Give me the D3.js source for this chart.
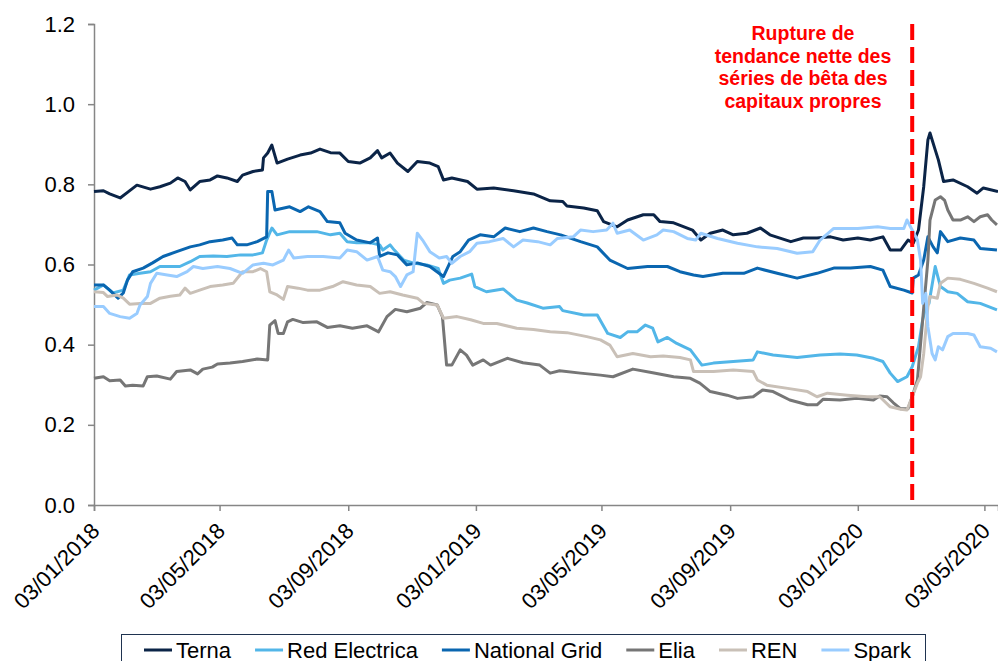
<!DOCTYPE html>
<html>
<head>
<meta charset="utf-8">
<script src="https://cdn.jsdelivr.net/npm/d3@7"></script>
<style>
  body { margin: 0; background: #fff; }
  svg { display: block; font-family: Arial, "Liberation Sans", sans-serif; }
</style>
</head>
<body>
<svg width="998" height="661"></svg>
<script>
// dates are day offsets from startDate
const startDate = '2018-01-03';
const endDate = '2020-05-16';
const breakDate = '2020-02-24';
const tickDates = ['2018-01-03', '2018-05-03', '2018-09-03', '2019-01-03',
  '2019-05-03', '2019-09-03', '2020-01-03', '2020-05-03'];
const yTicks = [0, 0.2, 0.4, 0.6, 0.8, 1.0, 1.2];
const seriesNames = ['Terna', 'Red Electrica', 'National Grid', 'Elia', 'REN', 'Spark'];
const annotationLines = ['Rupture de', 'tendance nette des', 'séries de bêta des', 'capitaux propres'];

const terna = [[0, 0.782], [9, 0.784], [15, 0.776], [25, 0.766], [32, 0.78], [41, 0.798], [54, 0.788],
  [63, 0.794], [73, 0.803], [80, 0.816], [87, 0.807], [92, 0.786], [101, 0.807], [111, 0.811], [118, 0.821],
  [127, 0.816], [137, 0.807], [142, 0.823], [152, 0.832], [161, 0.836], [162, 0.866], [166, 0.878],
  [170, 0.898], [175, 0.853], [185, 0.863], [197, 0.873], [207, 0.878], [216, 0.888], [226, 0.879],
  [235, 0.878], [243, 0.857], [254, 0.853], [264, 0.866], [271, 0.884], [275, 0.866], [283, 0.878],
  [290, 0.853], [300, 0.832], [309, 0.857], [321, 0.853], [329, 0.844], [334, 0.811], [342, 0.816],
  [357, 0.807], [366, 0.788], [382, 0.791], [401, 0.784], [420, 0.776], [436, 0.759], [448, 0.757],
  [452, 0.746], [468, 0.741], [481, 0.734], [487, 0.707], [500, 0.694], [510, 0.711], [525, 0.724],
  [535, 0.724], [541, 0.707], [554, 0.704], [572, 0.686], [580, 0.661], [589, 0.678], [601, 0.686],
  [611, 0.674], [624, 0.678], [637, 0.691], [646, 0.674], [666, 0.657], [678, 0.666], [691, 0.666],
  [704, 0.669], [716, 0.661], [730, 0.666], [742, 0.661], [754, 0.669], [761, 0.636], [771, 0.636],
  [778, 0.661], [783, 0.653], [788, 0.686], [793, 0.794], [797, 0.911], [799, 0.928], [804, 0.886],
  [807, 0.861], [812, 0.807], [821, 0.811], [835, 0.794], [844, 0.778], [850, 0.791], [864, 0.782]];

const redElectrica = [[0, 0.536], [9, 0.549], [18, 0.529], [28, 0.536], [34, 0.574], [44, 0.578],
  [54, 0.582], [63, 0.595], [73, 0.595], [82, 0.595], [92, 0.607], [101, 0.62], [114, 0.621], [127, 0.62],
  [140, 0.624], [152, 0.624], [161, 0.629], [165, 0.661], [170, 0.691], [175, 0.674], [187, 0.682],
  [200, 0.682], [213, 0.682], [226, 0.674], [235, 0.678], [242, 0.657], [251, 0.654], [264, 0.654],
  [273, 0.649], [276, 0.636], [283, 0.649], [287, 0.636], [296, 0.611], [305, 0.604], [318, 0.599],
  [329, 0.59], [334, 0.553], [340, 0.561], [350, 0.566], [361, 0.576], [364, 0.545], [375, 0.532],
  [391, 0.539], [404, 0.511], [414, 0.504], [429, 0.491], [445, 0.495], [448, 0.485], [468, 0.474],
  [481, 0.474], [491, 0.428], [503, 0.418], [510, 0.432], [519, 0.432], [527, 0.449], [534, 0.441],
  [539, 0.407], [548, 0.418], [557, 0.403], [570, 0.387], [581, 0.349], [592, 0.354], [611, 0.358],
  [630, 0.362], [634, 0.382], [649, 0.374], [672, 0.368], [694, 0.374], [713, 0.377], [729, 0.374],
  [745, 0.366], [754, 0.358], [761, 0.329], [768, 0.308], [777, 0.32], [782, 0.345], [788, 0.395],
  [792, 0.462], [795, 0.495], [798, 0.503], [804, 0.595], [809, 0.545], [816, 0.532], [825, 0.528],
  [835, 0.507], [847, 0.503], [863, 0.487]];

const nationalGrid = [[0, 0.549], [9, 0.549], [15, 0.536], [23, 0.516], [28, 0.529], [32, 0.561],
  [37, 0.582], [47, 0.591], [56, 0.604], [66, 0.62], [79, 0.632], [92, 0.644], [101, 0.649], [111, 0.657],
  [123, 0.661], [132, 0.666], [137, 0.649], [146, 0.649], [156, 0.657], [165, 0.669], [166, 0.782],
  [170, 0.782], [173, 0.736], [187, 0.744], [197, 0.732], [205, 0.744], [216, 0.732], [223, 0.707],
  [235, 0.704], [240, 0.678], [251, 0.661], [264, 0.654], [271, 0.666], [273, 0.62], [281, 0.629],
  [290, 0.624], [299, 0.599], [309, 0.604], [321, 0.595], [334, 0.57], [343, 0.62], [350, 0.632],
  [358, 0.661], [369, 0.674], [382, 0.669], [393, 0.691], [407, 0.682], [420, 0.691], [433, 0.682],
  [446, 0.674], [465, 0.657], [481, 0.644], [493, 0.611], [510, 0.59], [529, 0.595], [548, 0.595],
  [560, 0.582], [573, 0.574], [582, 0.57], [601, 0.578], [621, 0.578], [634, 0.591], [653, 0.578],
  [672, 0.566], [691, 0.578], [707, 0.591], [723, 0.591], [742, 0.595], [754, 0.586], [761, 0.545],
  [774, 0.536], [782, 0.529], [783, 0.566], [788, 0.574], [793, 0.611], [797, 0.669], [802, 0.644],
  [806, 0.629], [809, 0.682], [816, 0.657], [828, 0.666], [841, 0.661], [847, 0.64], [863, 0.636]];

const elia = [[0, 0.316], [9, 0.32], [15, 0.31], [25, 0.312], [30, 0.297], [37, 0.299], [47, 0.297],
  [51, 0.32], [60, 0.322], [73, 0.314], [79, 0.333], [92, 0.337], [99, 0.327], [104, 0.339], [113, 0.344],
  [118, 0.352], [130, 0.354], [142, 0.358], [156, 0.364], [166, 0.362], [168, 0.449], [173, 0.46],
  [176, 0.428], [181, 0.428], [185, 0.457], [190, 0.463], [200, 0.455], [213, 0.457], [223, 0.443],
  [235, 0.447], [247, 0.441], [261, 0.447], [272, 0.432], [280, 0.47], [288, 0.488], [299, 0.482],
  [312, 0.491], [318, 0.505], [328, 0.499], [333, 0.47], [337, 0.349], [342, 0.349], [350, 0.387],
  [356, 0.374], [362, 0.349], [372, 0.362], [379, 0.349], [395, 0.366], [410, 0.355], [426, 0.349],
  [436, 0.329], [445, 0.335], [465, 0.329], [484, 0.324], [496, 0.32], [515, 0.339], [534, 0.33],
  [554, 0.32], [570, 0.316], [579, 0.304], [589, 0.283], [605, 0.274], [615, 0.266], [630, 0.27],
  [639, 0.287], [649, 0.283], [665, 0.262], [682, 0.25], [691, 0.25], [697, 0.264], [713, 0.262],
  [729, 0.266], [745, 0.262], [751, 0.272], [758, 0.27], [764, 0.255], [771, 0.24], [778, 0.24],
  [782, 0.27], [787, 0.312], [792, 0.462], [797, 0.611], [799, 0.711], [804, 0.761], [809, 0.769],
  [813, 0.76], [816, 0.736], [821, 0.711], [828, 0.711], [835, 0.719], [841, 0.707], [847, 0.719],
  [854, 0.724], [858, 0.711], [863, 0.699]];

const ren = [[0, 0.532], [9, 0.53], [13, 0.52], [22, 0.524], [28, 0.516], [34, 0.501], [44, 0.503],
  [54, 0.503], [63, 0.516], [73, 0.521], [82, 0.524], [87, 0.541], [92, 0.528], [101, 0.536], [111, 0.545],
  [123, 0.549], [133, 0.553], [142, 0.582], [152, 0.582], [159, 0.59], [165, 0.582], [168, 0.532],
  [175, 0.524], [181, 0.513], [185, 0.545], [195, 0.541], [204, 0.536], [216, 0.536], [228, 0.545],
  [238, 0.557], [251, 0.549], [264, 0.545], [273, 0.528], [283, 0.532], [295, 0.524], [309, 0.516],
  [315, 0.503], [328, 0.499], [334, 0.466], [347, 0.47], [360, 0.462], [372, 0.453], [385, 0.453],
  [404, 0.441], [420, 0.438], [436, 0.432], [452, 0.43], [471, 0.42], [484, 0.412], [493, 0.399],
  [500, 0.37], [515, 0.378], [532, 0.37], [544, 0.372], [560, 0.368], [570, 0.362], [573, 0.333],
  [592, 0.333], [611, 0.337], [630, 0.333], [634, 0.312], [643, 0.299], [663, 0.291], [682, 0.283],
  [691, 0.27], [701, 0.279], [720, 0.274], [739, 0.27], [751, 0.27], [761, 0.245], [771, 0.239],
  [777, 0.237], [782, 0.27], [787, 0.304], [790, 0.32], [793, 0.378], [797, 0.495], [799, 0.52],
  [806, 0.516], [809, 0.553], [816, 0.566], [828, 0.563], [841, 0.553], [854, 0.541], [863, 0.532]];

const spark = [[0, 0.495], [9, 0.495], [15, 0.478], [25, 0.47], [34, 0.466], [41, 0.478], [44, 0.499],
  [51, 0.52], [54, 0.553], [60, 0.578], [70, 0.574], [79, 0.57], [89, 0.582], [95, 0.595], [104, 0.59],
  [118, 0.595], [130, 0.59], [142, 0.578], [152, 0.599], [162, 0.603], [171, 0.599], [181, 0.611],
  [186, 0.636], [191, 0.616], [204, 0.62], [219, 0.62], [235, 0.616], [242, 0.636], [251, 0.632],
  [261, 0.611], [271, 0.62], [276, 0.586], [283, 0.582], [288, 0.57], [293, 0.545], [299, 0.574],
  [305, 0.582], [309, 0.678], [314, 0.661], [321, 0.632], [330, 0.616], [337, 0.62], [342, 0.603],
  [350, 0.62], [359, 0.632], [366, 0.653], [378, 0.657], [391, 0.665], [401, 0.644], [410, 0.661],
  [424, 0.657], [436, 0.649], [443, 0.665], [458, 0.669], [465, 0.686], [477, 0.682], [490, 0.686],
  [496, 0.703], [500, 0.678], [512, 0.686], [525, 0.661], [538, 0.674], [544, 0.686], [554, 0.682],
  [567, 0.665], [575, 0.661], [580, 0.678], [596, 0.665], [615, 0.653], [634, 0.644], [653, 0.64],
  [672, 0.628], [687, 0.632], [694, 0.661], [707, 0.69], [730, 0.69], [749, 0.694], [761, 0.69],
  [774, 0.69], [777, 0.711], [782, 0.686], [787, 0.661], [790, 0.611], [792, 0.503], [795, 0.528],
  [797, 0.445], [801, 0.378], [804, 0.362], [807, 0.395], [811, 0.387], [816, 0.42], [821, 0.428],
  [835, 0.428], [841, 0.424], [847, 0.395], [857, 0.391], [863, 0.382]];

const seriesValues = [terna, redElectrica, nationalGrid, elia, ren, spark];
const seriesColors = ['#0b2447', '#52b6e8', '#0a66b0', '#767676', '#c9c0b7', '#99ccff'];

const svg = d3.select('svg');
const parseDate = d3.timeParse('%Y-%m-%d');
const start = parseDate(startDate);
const toDate = d => d3.timeDay.offset(start, d);

const margin = {left: 94, right: 998, top: 24, bottom: 505};

const x = d3.scaleTime()
  .domain([start, parseDate(endDate)])
  .range([margin.left, margin.right]);

const y = d3.scaleLinear()
  .domain([0, 1.2])
  .range([margin.bottom, margin.top]);

const axisColor = '#868686';

// y axis
const yAxis = svg.append('g')
  .attr('transform', `translate(${margin.left},0)`)
  .call(d3.axisLeft(y).tickValues(yTicks).tickFormat(d3.format('.1f')).tickSize(6).tickPadding(13));
yAxis.select('.domain').attr('stroke', axisColor).attr('stroke-width', 1.5);
yAxis.selectAll('.tick line').attr('stroke', axisColor).attr('stroke-width', 1.5);
yAxis.selectAll('.tick text')
  .attr('fill', '#000')
  .style('font-size', '22px')
  .style('font-family', 'Arial, "Liberation Sans", sans-serif');

// x axis
const xAxis = svg.append('g')
  .attr('transform', `translate(0,${margin.bottom})`)
  .call(d3.axisBottom(x).tickValues(tickDates.map(parseDate)).tickFormat(d3.timeFormat('%d/%m/%Y')).tickSize(6));
xAxis.select('.domain').attr('stroke', axisColor).attr('stroke-width', 1.5);
xAxis.selectAll('.tick line').attr('stroke', axisColor).attr('stroke-width', 1.5);
xAxis.selectAll('.tick text')
  .attr('fill', '#000')
  .attr('text-anchor', 'end')
  .attr('x', 0)
  .attr('y', 0)
  .attr('dy', '0.35em')
  .attr('transform', 'translate(1,22) rotate(-45)')
  .style('font-size', '22px')
  .style('font-family', 'Arial, "Liberation Sans", sans-serif');

// lines
const line = d3.line()
  .x(d => x(toDate(d[0])))
  .y(d => y(d[1]));

svg.append('g')
  .selectAll('path')
  .data(seriesValues)
  .join('path')
  .attr('d', line)
  .attr('fill', 'none')
  .attr('stroke', (d, i) => seriesColors[i])
  .attr('stroke-width', 3)
  .attr('stroke-linejoin', 'round');

// break marker
const bx = x(parseDate(breakDate));
svg.append('line')
  .attr('x1', bx).attr('x2', bx)
  .attr('y1', y(1.2)).attr('y2', y(0))
  .attr('stroke', '#ff0000')
  .attr('stroke-width', 4)
  .attr('stroke-dasharray', '16,7');

svg.append('text')
  .attr('x', 803)
  .attr('y', 40)
  .attr('text-anchor', 'middle')
  .attr('fill', '#ff0000')
  .style('font-weight', 'bold')
  .style('font-size', '19.5px')
  .selectAll('tspan')
  .data(annotationLines)
  .join('tspan')
  .attr('x', 803)
  .attr('dy', (d, i) => i === 0 ? 0 : 22.5)
  .text(d => d);

// legend
const legend = svg.append('g');
legend.append('rect')
  .attr('x', 121.5).attr('y', 634.5)
  .attr('width', 804).attr('height', 40)
  .attr('fill', '#fff')
  .attr('stroke', '#1f3350')
  .attr('stroke-width', 1);

let lx = 144;
seriesNames.forEach((name, i) => {
  const item = legend.append('g').attr('transform', `translate(${lx},650)`);
  item.append('line')
    .attr('x1', 0).attr('x2', 28)
    .attr('stroke', seriesColors[i])
    .attr('stroke-width', 3);
  const t = item.append('text')
    .attr('x', 32)
    .attr('dy', '0.35em')
    .style('font-size', '22px')
    .text(name);
  lx += 32 + t.node().getComputedTextLength() + 24;
});
</script>
</body>
</html>
